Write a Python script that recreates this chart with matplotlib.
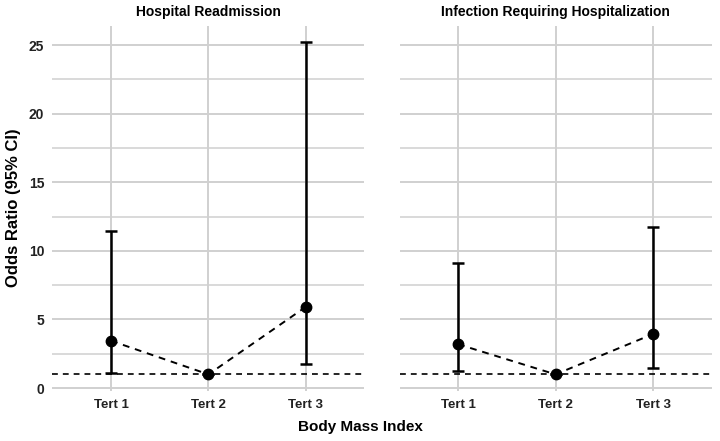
import matplotlib
matplotlib.use('Agg')
import matplotlib.pyplot as plt

plt.rcParams['font.family'] = ['Liberation Sans', 'DejaVu Sans']

# data
categories = ['Tert 1', 'Tert 2', 'Tert 3']
panels = ['Hospital Readmission', 'Infection Requiring Hospitalization']
or_readm = [3.45, 1.0, 5.93]
lo_readm = [1.12, 1.0, 1.75]
hi_readm = [11.42, 1.0, 25.2]
or_infect = [3.2, 1.0, 3.94]
lo_infect = [1.24, 1.0, 1.43]
hi_infect = [9.13, 1.0, 11.71]
reference = 1.0
yticks = [0, 5, 10, 15, 20, 25]

series = [(or_readm, lo_readm, hi_readm), (or_infect, lo_infect, hi_infect)]

# shared y range with ggplot-like 5% expansion
all_vals = lo_readm + hi_readm + lo_infect + hi_infect + [reference]
ymin, ymax = min(all_vals), max(all_vals)
pad = 0.05 * (ymax - ymin)

fig = plt.figure(figsize=(7.2, 4.41), dpi=100)
grid_col = '#d0d0d0'

lefts = [0.0729, 0.5549]
for i, (title, (est, lo, hi)) in enumerate(zip(panels, series)):
    ax = fig.add_axes([lefts[i], 0.1134, 0.4333, 0.8283])
    x = list(range(len(categories)))
    ax.set_xlim(-0.6, len(categories) - 0.4)
    ax.set_ylim(ymin - pad, ymax + pad)

    # grid
    for yv in yticks:
        ax.axhline(yv, color=grid_col, lw=1.4, zorder=0)
    for yv in yticks[:-1]:
        ax.axhline(yv + 2.5, color=grid_col, lw=1.1, zorder=0)
    for xv in x:
        ax.axvline(xv, color=grid_col, lw=1.4, zorder=0)

    ax.axhline(reference, color='black', lw=1.2, linestyle=(0, (3.5, 3)), zorder=2)

    yerr = [[e - l for e, l in zip(est, lo)], [h - e for e, h in zip(est, hi)]]
    ax.errorbar(x, est, yerr=yerr, fmt='none', ecolor='black', elinewidth=1.8,
                capsize=4, capthick=1.8, zorder=3)
    ax.plot(x, est, color='black', lw=1.4, linestyle=(0, (3.5, 3)), zorder=3)
    ax.plot(x, est, 'o', color='black', markersize=7.5, zorder=4)

    ax.set_xticks(x)
    ax.set_xticklabels(categories, fontweight='bold', fontsize=9.5)
    ax.set_yticks(yticks)
    if i == 0:
        ax.set_yticklabels([str(v) for v in yticks], fontweight='bold', fontsize=10)
    else:
        ax.set_yticklabels([])
    ax.tick_params(length=0, pad=6, colors='#222222')
    for s in ax.spines.values():
        s.set_visible(False)
    ax.set_title(title, fontsize=10, fontweight='bold', pad=7)

fig.text(0.5, 0.032, 'Body Mass Index', ha='center', va='center', fontsize=11, fontweight='bold')
fig.text(0.019, 0.53, 'Odds Ratio (95% CI)', ha='center', va='center',
         rotation=90, fontsize=12, fontweight='bold')

fig.savefig('out.png', dpi=100)
